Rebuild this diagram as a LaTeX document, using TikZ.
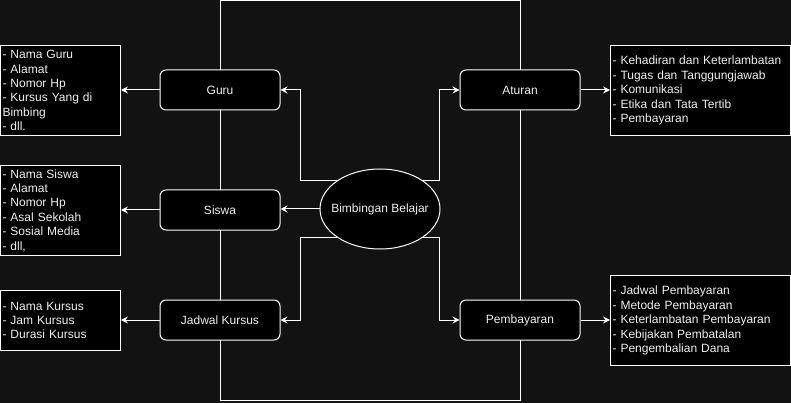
\documentclass[tikz,border=0pt]{standalone}
\usepackage{fontspec}
\setmainfont{Liberation Sans}
\usetikzlibrary{arrows.meta,shapes.geometric}

\definecolor{bgdark}{HTML}{121212}
\definecolor{txtgray}{HTML}{F0F0F0}

\tikzset{
  drawiofont/.style={font=\fontsize{12}{14.4}\selectfont},
  entity/.style={draw=white, fill=black, rounded corners=6pt, text=txtgray,
    minimum width=120pt, minimum height=40pt, inner sep=0pt, drawiofont},
  infobox/.style={draw=white, fill=black, text=txtgray, align=left,
    inner sep=2pt, anchor=north west, drawiofont},
  link/.style={white, -{Stealth[length=7pt,width=7pt,inset=2.5pt]}}
}

\begin{document}
\begin{tikzpicture}[x=1pt, y=-1pt, line width=1pt]
    \useasboundingbox[fill=bgdark] (0,0) rectangle (791,403);

    % Frame
    \draw[white] (220.5,0.5) rectangle (520.5,400);

    % Vertices
    \node[entity] (guru) at (220,90) {Guru};
    \node[entity] (siswa) at (220,210) {Siswa};
    \node[entity] (jadwal) at (220,320) {Jadwal Kursus};
    \node[entity] (aturan) at (520,90) {Aturan};
    \node[entity] (pembayaran) at (520,320) {Pembayaran};
    \node[ellipse, draw=white, fill=black, text=txtgray, drawiofont,
      minimum width=120pt, minimum height=80pt, inner xsep=-10pt, inner ysep=0pt]
      (bimbingan) at (380,209) {Bimbingan Belajar};

    % Boxes
    \node[infobox, text width=116pt, minimum height=90pt] (guruinfo) at (0,45)
      {- Nama Guru\\- Alamat\\- Nomor Hp\\- Kursus Yang di\\Bimbing\\- dll.};
    \node[infobox, text width=116pt, minimum height=90pt] (siswainfo) at (0,165)
      {- Nama Siswa\\- Alamat\\- Nomor Hp\\- Asal Sekolah\\- Sosial Media\\- dll,};
    \node[infobox, text width=116pt, minimum height=60pt] (jadwalinfo) at (0,290)
      {- Nama Kursus\\- Jam Kursus\\- Durasi Kursus};
    \node[infobox, text width=176pt, minimum height=90pt] (aturaninfo) at (610,45)
      {- Kehadiran dan Keterlambatan\\- Tugas dan Tanggungjawab\\- Komunikasi\\- Etika dan Tata Tertib\\- Pembayaran};
    \node[infobox, text width=176pt, minimum height=90pt] (bayarinfo) at (610,275)
      {- Jadwal Pembayaran\\- Metode Pembayaran\\- Keterlambatan Pembayaran\\- Kebijakan Pembatalan\\- Pengembalian Dana};

    % Edges
    \draw[link] (bimbingan.147) -| ([xshift=20pt]guru.east) -- (guru.east);
    \draw[link] (bimbingan.west) -- (bimbingan.west -| siswa.east);
    \draw[link] (bimbingan.213) -| ([xshift=20pt]jadwal.east) -- (jadwal.east);
    \draw[link] (bimbingan.33) -| ([xshift=-20pt]aturan.west) -- (aturan.west);
    \draw[link] (bimbingan.327) -| ([xshift=-20pt]pembayaran.west) -- (pembayaran.west);

    \draw[link] (guru.west) -- (guru.west -| guruinfo.east);
    \draw[link] (siswa.west) -- (siswa.west -| siswainfo.east);
    \draw[link] (jadwal.west) -- (jadwal.west -| jadwalinfo.east);
    \draw[link] (aturan.east) -- (aturan.east -| aturaninfo.west);
    \draw[link] (pembayaran.east) -- (pembayaran.east -| bayarinfo.west);

  \end{tikzpicture}
\end{document}
